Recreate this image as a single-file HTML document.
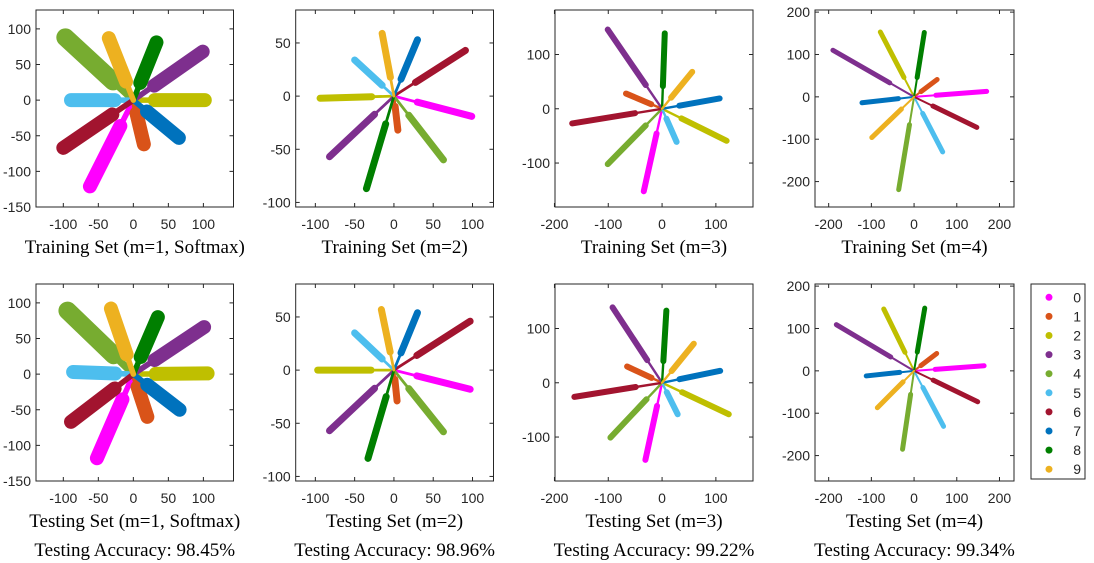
<!DOCTYPE html>
<html><head><meta charset="utf-8">
<style>
html,body{margin:0;padding:0;background:#fff;}
svg{display:block;}
.tk{font-family:"Liberation Sans",Arial,sans-serif;font-size:14px;fill:#262626;}
.ttl{font-family:"Liberation Serif","Times New Roman",serif;font-size:19px;fill:#000;}
</style></head>
<body>
<svg id="fig" width="1094" height="563" viewBox="0 0 1094 563" xmlns="http://www.w3.org/2000/svg"></svg>
<script>
// ---- data ----
const classLabels = ['0','1','2','3','4','5','6','7','8','9'];
const classColors = ['#ff00ff','#d95319','#bfbf00','#7e2f8e','#77ac30','#4dbeee','#a2142f','#0072bd','#007f00','#edb120'];
const titles = ['Training Set (m=1, Softmax)','Training Set (m=2)','Training Set (m=3)','Training Set (m=4)',
                'Testing Set (m=1, Softmax)','Testing Set (m=2)','Testing Set (m=3)','Testing Set (m=4)'];
const accuracies = ['Testing Accuracy: 98.45%','Testing Accuracy: 98.96%','Testing Accuracy: 99.22%','Testing Accuracy: 99.34%'];
const xTicksP1 = [-100,-50,0,50,100];
const yTicksP1 = [-150,-100,-50,0,50,100];
const xTicksP2 = [-100,-50,0,50,100];
const yTicksP2 = [-100,-50,0,50];
const xTicksP3 = [-200,-100,0,100];
const yTicksP3 = [-100,0,100];
const xTicksP4 = [-200,-100,0,100,200];
const yTicksP4 = [-200,-100,0,100,200];
// cluster tip coordinates (data units), one per class 0..9
const trainP1X = [-62,15,102,99,-97,-89,-100,65,33,-35];
const trainP1Y = [-121,-62,0,68,88,0,-67,-53,81,87];
const testP1X  = [-52,20,106,101,-94,-86,-89,66,35,-32];
const testP1Y  = [-118,-60,1,66,89,3,-67,-50,80,92];
const trainP2X = [99,5,-94,-82,63,-50,91,30,-35,-15];
const trainP2Y = [-19,-32,-2,-57,-60,34,43,53,-87,59];
const testP2X  = [97,4,-97,-82,63,-50,97,30,-33,-16];
const testP2Y  = [-18,-29,0,-57,-58,35,46,54,-83,57];
const trainP3X = [-34,-67,120,-101,-101,27,-167,107,5,56];
const trainP3Y = [-152,28,-59,146,-102,-61,-27,19,139,68];
const testP3X  = [-31,-65,124,-92,-96,29,-163,108,8,59];
const testP3Y  = [-142,30,-58,139,-101,-58,-26,22,133,72];
const trainP4X = [170,54,-79,-190,-36,67,147,-122,24,-99];
const trainP4Y = [13,41,153,110,-219,-130,-72,-14,152,-96];
const testP4X  = [164,53,-71,-182,-27,69,149,-112,25,-86];
const testP4Y  = [12,41,146,109,-185,-131,-73,-12,148,-87];

// ---- layout ----
const NS='http://www.w3.org/2000/svg';
const svg=document.getElementById('fig');
function mk(tag,attrs,parent){const e=document.createElementNS(NS,tag);for(const k in attrs)e.setAttribute(k,attrs[k]);(parent||svg).appendChild(e);return e;}
const cols=[{x0:36,x1:233.5,xd:[-139,143],yd:[-150,126.5],xt:xTicksP1,yt:yTicksP1,w:14},
            {x0:295.7,x1:493.5,xd:[-125,126.7],yd:[-104.3,81],xt:xTicksP2,yt:yTicksP2,w:7},
            {x0:555,x1:753,xd:[-199,169],yd:[-181,182],xt:xTicksP3,yt:yTicksP3,w:6},
            {x0:815,x1:1014,xd:[-232,234],yd:[-260,205],xt:xTicksP4,yt:yTicksP4,w:5}];
const rows=[{y0:10,y1:207},{y0:284,y1:481}];
const dataX=[[trainP1X,trainP2X,trainP3X,trainP4X],[testP1X,testP2X,testP3X,testP4X]];
const dataY=[[trainP1Y,trainP2Y,trainP3Y,trainP4Y],[testP1Y,testP2Y,testP3Y,testP4Y]];

rows.forEach((r,ri)=>{
  cols.forEach((c,ci)=>{
    const g=mk('g',{});
    
    
    const sx=v=>c.x0+(v-c.xd[0])/(c.xd[1]-c.xd[0])*(c.x1-c.x0);
    const sy=v=>r.y1-(v-c.yd[0])/(c.yd[1]-c.yd[0])*(r.y1-r.y0);
    const clip='clip'+ri+ci;
    const cp=mk('clipPath',{id:clip},g);
    mk('rect',{x:c.x0,y:r.y0,width:c.x1-c.x0,height:r.y1-r.y0},cp);
    const marks=mk('g',{'clip-path':'url(#'+clip+')'},g);
    const X=dataX[ri][ci],Y=dataY[ri][ci];
    for(let k=0;k<classLabels.length;k++){
      const cg=mk('g',{},marks);
      
      
      const ox=sx(0),oy=sy(0),ex=sx(X[k]),ey=sy(Y[k]);
      const w=(ci===0&&k===4)?c.w*1.3:c.w;
      mk('line',{x1:ox,y1:oy,x2:ex,y2:ey,stroke:classColors[k],'stroke-width':Math.max(2,w*0.4),'stroke-linecap':'round'},cg);
      mk('line',{x1:ox+(ex-ox)*0.3,y1:oy+(ey-oy)*0.3,x2:ex,y2:ey,stroke:classColors[k],'stroke-width':w,'stroke-linecap':'round'},cg);
    }
    const bx=mk('rect',{x:c.x0,y:r.y0,width:c.x1-c.x0,height:r.y1-r.y0,fill:'none',stroke:'#262626','stroke-width':1},g);
    
    
    c.xt.forEach(t=>{
      const x=sx(t);
      mk('line',{x1:x,y1:r.y1,x2:x,y2:r.y1-4,stroke:'#262626'},g);
      mk('line',{x1:x,y1:r.y0,x2:x,y2:r.y0+4,stroke:'#262626'},g);
      const tx=mk('text',{x:x,y:r.y1+22,'text-anchor':'middle',class:'tk'},g);
      tx.textContent=t;
      
      
    });
    c.yt.forEach(t=>{
      const y=sy(t);
      mk('line',{x1:c.x0,y1:y,x2:c.x0+4,y2:y,stroke:'#262626'},g);
      mk('line',{x1:c.x1,y1:y,x2:c.x1-4,y2:y,stroke:'#262626'},g);
      const tx=mk('text',{x:c.x0-5,y:y+5,'text-anchor':'end',class:'tk'},g);
      tx.textContent=t;
      
      
    });
    const cx=(c.x0+c.x1)/2;
    const tt=mk('text',{x:cx,y:r.y1+46,'text-anchor':'middle',class:'ttl'},g);
    tt.textContent=titles[ri*4+ci];
    
    
    if(ri===1){
      const ac=mk('text',{x:cx,y:r.y1+75,'text-anchor':'middle',class:'ttl'},g);
      ac.textContent=accuracies[ci];
      
      
    }
  });
});
// legend
const lg=mk('g',{});


mk('rect',{x:1031,y:284,width:54,height:195,fill:'#fff',stroke:'#262626'},lg);
classLabels.forEach((l,i)=>{
  const y=297.3+i*19.1;
  const e=mk('g',{},lg);
  
  
  mk('circle',{cx:1049,cy:y,r:3.5,fill:classColors[i]},e);
  const t=mk('text',{x:1081,y:y+5,'text-anchor':'end',class:'tk'},e);
  t.textContent=l;
});
</script>
</body></html>
